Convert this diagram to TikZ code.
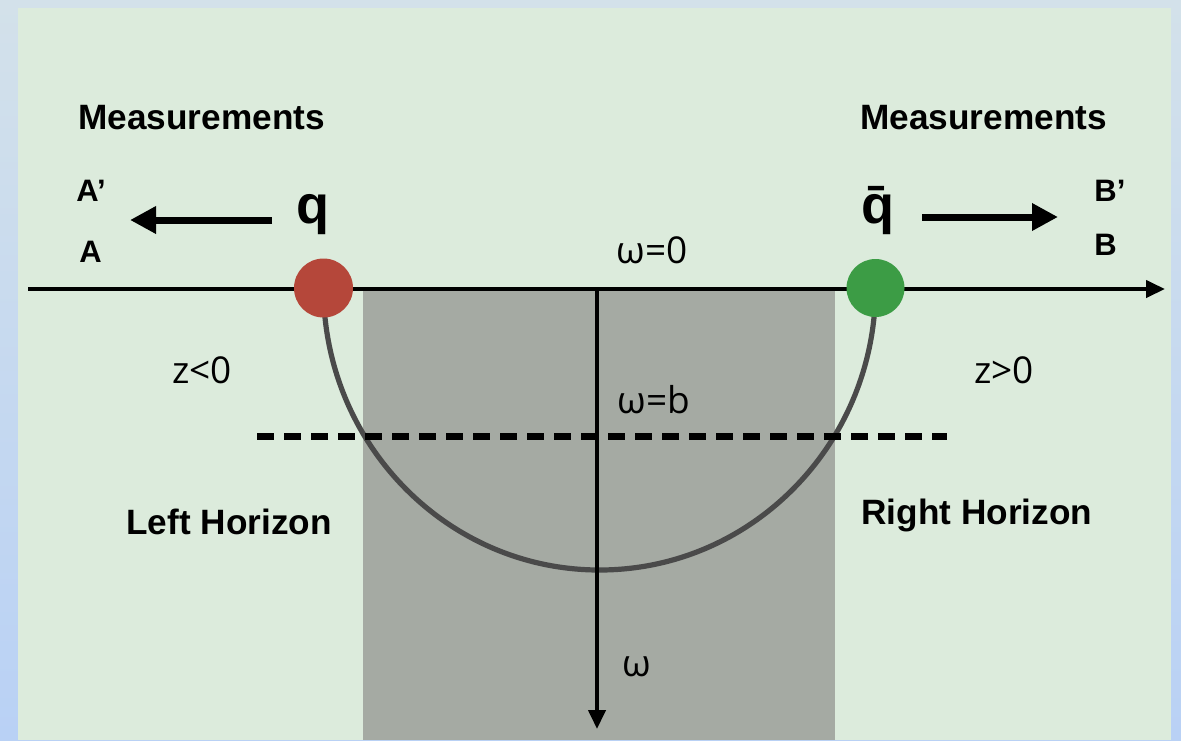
\documentclass[tikz,border=0pt]{standalone}
\usepackage{fontspec}
\setmainfont{Liberation Sans}
\newfontfamily\lightfont{Open Sans}
\usetikzlibrary{arrows.meta}
\definecolor{outerA}{HTML}{D3E1EA}
\definecolor{outerB}{HTML}{B9D1F5}
\definecolor{panel}{HTML}{DCEBDC}
\definecolor{bulk}{HTML}{A5AAA3}
\definecolor{quark}{HTML}{B5473A}
\definecolor{antiquark}{HTML}{3C9C45}
\definecolor{stringcol}{HTML}{4A4A4A}
\begin{document}
\begin{tikzpicture}[x=0.5pt,y=-0.5pt,
  bold label/.style={font=\fontsize{17.6}{20}\selectfont\bfseries, inner sep=0pt},
  small bold/.style={font=\fontsize{15.5}{18}\selectfont\bfseries, inner sep=0pt},
  quark label/.style={font=\fontsize{27}{30}\selectfont\bfseries, inner sep=0pt},
  math label/.style={font=\lightfont\fontsize{18.5}{21}\selectfont, inner sep=0pt},
  axis/.style={line width=2pt, -{Triangle[length=9.5pt,width=8.5pt]}},
  move arrow/.style={line width=3.5pt, -{Triangle[length=13pt,width=13pt]}},
  particle/.style={circle, minimum size=29.5pt, inner sep=0pt},
  horizon line/.style={line width=3.5pt, dash pattern=on 8.5pt off 5pt},
]
\useasboundingbox (0,0) rectangle (1181,740);
\shade[top color=outerA, bottom color=outerB] (0,0) rectangle (1181,740);
\fill[panel] (18,8) rectangle (1171,740);
\fill[bulk] (363,289) rectangle (835,740);

% coordinates
\coordinate (hstart) at (28,289);
\coordinate (hend) at (1165,289);
\coordinate (vstart) at (597,289);
\coordinate (vend) at (597,729);
\coordinate (dl) at (257,436);
\coordinate (dr) at (947,436);
\coordinate (la1) at (272,220);
\coordinate (la2) at (130,220);
\coordinate (ra1) at (922,217);
\coordinate (ra2) at (1058,217);

\node[particle] (qc) at (323.5,288) {};
\node[particle] (qbc) at (875.5,288) {};

% string
\draw[stringcol, line width=2.6pt] (qc.center) arc[start angle=180, end angle=360, x radius=138pt, y radius=141pt];

% axes
\draw[axis] (hstart) -- (hend);
\draw[axis] (vstart) -- (vend);
\draw[horizon line] (dl) -- (dr);

% particles
\fill[quark] (qc) circle[radius=14.75pt];
\fill[antiquark] (qbc) circle[radius=14.5pt];

% motion arrows
\draw[move arrow] (la1) -- (la2);
\draw[move arrow] (ra1) -- (ra2);

% labels
\node[bold label, anchor=base west] (meas1) at (78,129) {Measurements};
\node[bold label, anchor=base west] (meas2) at (860,129) {Measurements};
\node[small bold, anchor=base west] (ap) at (76,201) {A’};
\node[small bold, anchor=base west] (a) at (79,262) {A};
\node[small bold, anchor=base west] (bp) at (1094,201) {B’};
\node[small bold, anchor=base west] (b) at (1094,255) {B};
\node[quark label, anchor=base] (q) at (313,223) {q};
\node[quark label, anchor=base] (qb) at (878,223) {\=q};
\node[math label, anchor=base west] (w0) at (616,263) {ω=0};
\node[math label, anchor=base west] (zl) at (172,383) {z<0};
\node[math label, anchor=base west] (zr) at (974,383) {z>0};
\node[math label, anchor=base west] (wb) at (617,413) {ω=b};
\node[math label, anchor=base west] (w) at (622,676) {ω};
\node[bold label, anchor=base west] (lh) at (126,534) {Left Horizon};
\node[bold label, anchor=base west] (rh) at (861,524) {Right Horizon};
\end{tikzpicture}
\end{document}
